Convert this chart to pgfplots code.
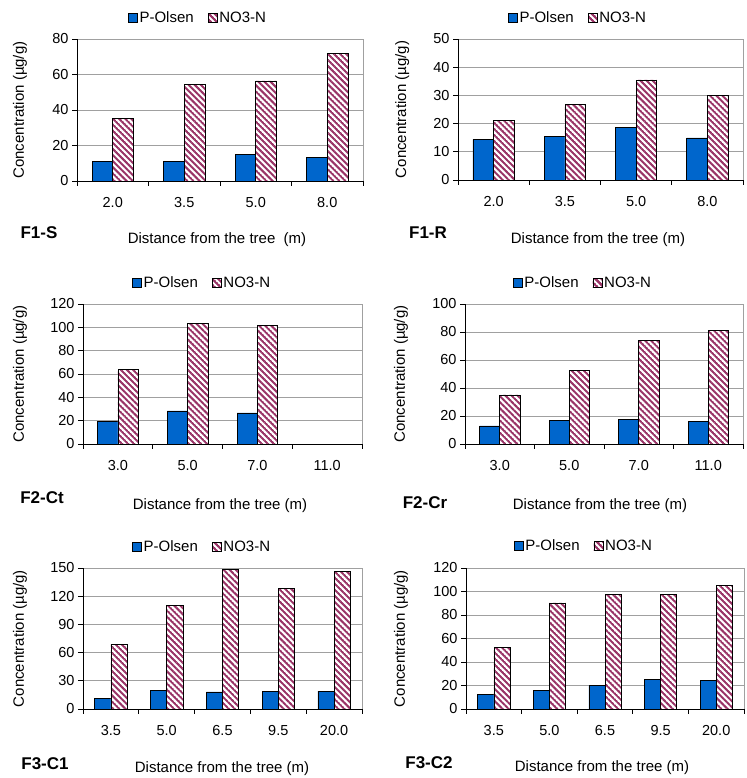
\documentclass[border=0pt]{standalone}
\usepackage{pgfplots}
\pgfplotsset{compat=1.18}
\usetikzlibrary{patterns.meta}
\usepackage{fontspec}
\setmainfont{Liberation Sans}
\definecolor{pblue}{HTML}{0066CC}
\definecolor{nmaroon}{HTML}{993366}
\definecolor{gridgray}{HTML}{A0A0A0}
\newcommand\tickfont{\fontsize{14.5}{16}\selectfont}
\newcommand\labfont{\fontsize{15}{17}\selectfont}
\newcommand\panfont{\fontsize{17}{19}\selectfont\bfseries}

\tikzdeclarepattern{
  name=nwstripes,
  type=uncolored,
  bounding box={(0,-1.0pt) and (4.3pt,1.0pt)},
  tile size={(4.3pt,4.3pt)},
  tile transformation={rotate=-45},
  code={\pgfpathrectangle{\pgfpoint{-0.1pt}{-1.0pt}}{\pgfpoint{4.5pt}{2.0pt}}\pgfusepath{fill}}
}

\pgfplotsset{
  panel/.style={
    scale only axis, anchor=south west,
    ymin=0, xmin=-0.5,
    axis x line*=bottom, axis y line*=left,
    ymajorgrids, grid style={gridgray, line width=0.7pt},
    tick align=outside, major tick length=5pt,
    tick style={black, line width=0.7pt},
    axis line style={black, line width=0.9pt},
    x tick label as interval,
    ticklabel style={font=\tickfont},
    xticklabel style={yshift=-8pt},
    /pgf/number format/assume math mode=true,
    ylabel={Concentration (µg/g)},
    ylabel style={font=\labfont, anchor=center},
    legend columns=2,
    legend style={draw=none, fill=none, anchor=center, font=\labfont,
      /tikz/every even column/.append style={column sep=12pt},
      /tikz/every odd column/.append style={column sep=0pt}},
    after end axis/.code={\draw[gridgray, line width=0.9pt] (rel axis cs:1,0) -- (rel axis cs:1,1);},
  },
  pbar/.style={ybar, fill=pblue, draw=black, line width=0.6pt, bar width=0.29, bar shift=-0.145,
    legend image code/.code={\draw[fill=pblue, draw=black, line width=0.6pt] (0pt,-4.5pt) rectangle (9pt,4.5pt);}},
  nbar/.style={ybar, fill=white, postaction={pattern=nwstripes, pattern color=nmaroon}, draw=black, line width=0.6pt, bar width=0.29, bar shift=0.145,
    legend image code/.code={\draw[fill=white, postaction={pattern=nwstripes, pattern color=nmaroon}, draw=black, line width=0.6pt] (0pt,-4.5pt) rectangle (9pt,4.5pt);}},
}

\begin{document}
\begin{tikzpicture}[x=1pt,y=1pt]
\useasboundingbox (0pt,0pt) rectangle (746pt,778pt);

% ---------- F1-S ----------
\begin{axis}[panel, at={(77pt,597pt)}, width=286pt, height=142pt,
  xmax=3.5, ymax=80, ytick={0,20,...,80},
  xtick={-0.5,0.5,1.5,2.5,3.5}, xticklabels={2.0,3.5,5.0,8.0},
  ylabel style={at={(axis description cs:-0.199,0.5)}},
  legend style={at={(axis description cs:0.423,1.148)}}]
\addplot[pbar] coordinates {(0,10.9) (1,11.0) (2,14.9) (3,13.2)};
\addplot[nbar] coordinates {(0,35.3) (1,54.3) (2,56.4) (3,71.9)};
\legend{P-Olsen,NO3-N}
\end{axis}

% ---------- F1-R ----------
\begin{axis}[panel, at={(458pt,598pt)}, width=285pt, height=141pt,
  xmax=3.5, ymax=50, ytick={0,10,...,50},
  xtick={-0.5,0.5,1.5,2.5,3.5}, xticklabels={2.0,3.5,5.0,8.0},
  ylabel style={at={(axis description cs:-0.196,0.5)}},
  legend style={at={(axis description cs:0.421,1.149)}}]
\addplot[pbar] coordinates {(0,14.4) (1,15.4) (2,18.7) (3,14.9)};
\addplot[nbar] coordinates {(0,21.2) (1,26.7) (2,35.5) (3,29.9)};
\legend{P-Olsen,NO3-N}
\end{axis}

% ---------- F2-Ct ----------
\begin{axis}[panel, at={(83pt,334pt)}, width=279pt, height=140pt,
  xmax=3.5, ymax=120, ytick={0,20,...,120},
  xtick={-0.5,0.5,1.5,2.5,3.5}, xticklabels={3.0,5.0,7.0,11.0},
  ylabel style={at={(axis description cs:-0.226,0.5)}},
  legend style={at={(axis description cs:0.427,1.15)}}]
\addplot[pbar] coordinates {(0,19.2) (1,28.4) (2,26.6)};
\addplot[nbar] coordinates {(0,63.6) (1,103.7) (2,101.4)};
\legend{P-Olsen,NO3-N}
\end{axis}

% ---------- F2-Cr ----------
\begin{axis}[panel, at={(465pt,334pt)}, width=278pt, height=140pt,
  xmax=3.5, ymax=100, ytick={0,20,...,100},
  xtick={-0.5,0.5,1.5,2.5,3.5}, xticklabels={3.0,5.0,7.0,11.0},
  ylabel style={at={(axis description cs:-0.23,0.5)}},
  legend style={at={(axis description cs:0.424,1.15)}}]
\addplot[pbar] coordinates {(0,12.9) (1,16.9) (2,17.7) (3,16.2)};
\addplot[nbar] coordinates {(0,35.1) (1,52.7) (2,74.2) (3,81.1)};
\legend{P-Olsen,NO3-N}
\end{axis}

% ---------- F3-C1 ----------
\begin{axis}[panel, at={(83pt,69pt)}, width=279pt, height=141pt,
  xmax=4.5, ymax=150, ytick={0,30,...,150},
  xtick={-0.5,0.5,1.5,2.5,3.5,4.5}, xticklabels={3.5,5.0,6.5,9.5,20.0},
  ylabel style={at={(axis description cs:-0.226,0.5)}},
  legend style={at={(axis description cs:0.427,1.149)}}]
\addplot[pbar] coordinates {(0,11.7) (1,20.2) (2,18.1) (3,19.1) (4,19.1)};
\addplot[nbar] coordinates {(0,68.8) (1,110.6) (2,148.9) (3,128.4) (4,146.1)};
\legend{P-Olsen,NO3-N}
\end{axis}

% ---------- F3-C2 ----------
\begin{axis}[panel, at={(466pt,69pt)}, width=278pt, height=141pt,
  xmax=4.5, ymax=120, ytick={0,20,...,120},
  xtick={-0.5,0.5,1.5,2.5,3.5,4.5}, xticklabels={3.5,5.0,6.5,9.5,20.0},
  ylabel style={at={(axis description cs:-0.234,0.5)}},
  legend style={at={(axis description cs:0.424,1.156)}}]
\addplot[pbar] coordinates {(0,12.2) (1,16.1) (2,20.1) (3,25.2) (4,24.3)};
\addplot[nbar] coordinates {(0,52.4) (1,90.3) (2,97.4) (3,97.4) (4,105.3)};
\legend{P-Olsen,NO3-N}
\end{axis}

% panel names and x labels
\node[font=\panfont] at (39pt,545pt) {F1-S};
\node[font=\panfont] at (428pt,545pt) {F1-R};
\node[font=\panfont] at (42pt,280pt) {F2-Ct};
\node[font=\panfont] at (425pt,275pt) {F2-Cr};
\node[font=\panfont] at (45pt,14pt) {F3-C1};
\node[font=\panfont] at (429pt,15pt) {F3-C2};

\node[font=\labfont] at (217pt,538pt) {Distance from the tree\ \ (m)};
\node[font=\labfont] at (598pt,538pt) {Distance from the tree (m)};
\node[font=\labfont] at (220pt,272pt) {Distance from the tree (m)};
\node[font=\labfont] at (600pt,272pt) {Distance from the tree (m)};
\node[font=\labfont] at (222pt,9pt) {Distance from the tree (m)};
\node[font=\labfont] at (602pt,10pt) {Distance from the tree (m)};
\end{tikzpicture}
\end{document}
